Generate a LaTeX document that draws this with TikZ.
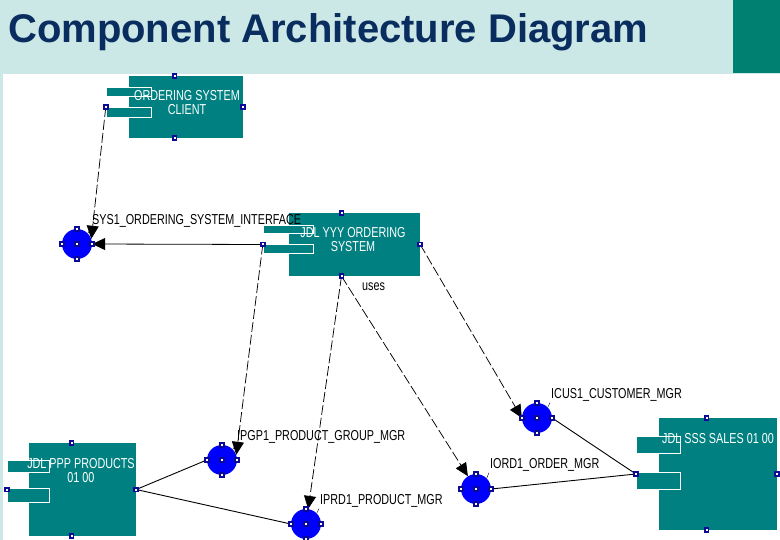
\documentclass[tikz,border=0pt]{standalone}
\usepackage{xcolor}
\usepackage{fontspec}
\setmainfont{Liberation Sans}
\newfontfamily\rosefont[FakeStretch=0.75]{Liberation Sans}
\usepackage{tikz}
\usetikzlibrary{arrows.meta, positioning, calc}

\definecolor{rosecyan}{RGB}{204,232,230}
\definecolor{roseteal}{RGB}{0,128,128}
\definecolor{headteal}{RGB}{0,128,112}
\definecolor{titlenavy}{RGB}{10,45,95}
\definecolor{handleblue}{RGB}{10,10,150}

\tikzset{
    compbox/.style={rectangle, inner sep=0pt, draw=none},
    compbody/.style={rectangle, inner sep=0pt, fill=roseteal},
    comptab/.style={rectangle, inner sep=0pt, fill=roseteal, draw=white, line width=0.8pt},
    comptext/.style={text=white, font=\rosefont\fontsize{14.4}{14}\selectfont, align=center, inner sep=0pt},
    iface/.style={circle, fill=blue, minimum size=30pt, inner sep=0pt},
    handle/.style={rectangle, fill=handleblue, minimum size=5.5pt, inner sep=0pt,
        path picture={\fill[white] ([shift={(-1pt,-1pt)}]path picture bounding box.center) rectangle ++(2pt,2pt);}},
    ifacelabel/.style={font=\rosefont\fontsize{14.4}{14}\selectfont, inner sep=1pt},
    depends/.style={-{Triangle[length=13pt,width=12pt]}, dash pattern=on 10pt off 3pt, line width=0.75pt},
    assoc/.style={-{Triangle[length=13pt,width=12pt]}, line width=0.8pt},
    realize/.style={line width=0.9pt}
}

\begin{document}
\begin{tikzpicture}[x=1pt, y=-1pt]
    \useasboundingbox (0,0) rectangle (780,540);
    \fill[rosecyan] (0,0) rectangle (780,540);
    \fill[white] (3,74) rectangle (780,540);
    \fill[headteal] (733,0) rectangle (780,73);
    \node (title) [anchor=base west, inner sep=0pt, text=titlenavy, font=\fontsize{40}{40}\selectfont\bfseries] at (8,43) {Component Architecture Diagram};

    \node (cli) [compbox, minimum width=137pt, minimum height=62pt] at (174.5,107) {};
    \node (cliBody) [compbody, minimum width=114pt, minimum height=62pt, anchor=east] at (cli.east) {};
    \node (cliTabA) [comptab, minimum width=45pt, minimum height=9pt, anchor=north west] at ($(cli.west)+(0,-20)$) {};
    \node (cliTabB) [comptab, minimum width=45pt, minimum height=10pt, anchor=north west] at (cli.west) {};
    \node (cliText) [comptext] at (187,103) {ORDERING SYSTEM\\CLIENT};

    \node (yyy) [compbox, minimum width=157pt, minimum height=63pt] at (341.5,244.5) {};
    \node (yyyBody) [compbody, minimum width=131pt, minimum height=63pt, anchor=east] at (yyy.east) {};
    \node (yyyTabA) [comptab, minimum width=50pt, minimum height=8pt, anchor=north west] at ($(yyy.west)+(0,-19.5)$) {};
    \node (yyyTabB) [comptab, minimum width=50pt, minimum height=9pt, anchor=north west] at (yyy.west) {};
    \node (yyyText) [comptext] at (353,240) {JDL YYY ORDERING\\SYSTEM};

    \node (ppp) [compbox, minimum width=129pt, minimum height=93pt] at (71.5,489.5) {};
    \node (pppBody) [compbody, minimum width=107pt, minimum height=93pt, anchor=east] at (ppp.east) {};
    \node (pppTabA) [comptab, minimum width=42pt, minimum height=12pt, anchor=north west] at ($(ppp.west)+(0,-29.5)$) {};
    \node (pppTabB) [comptab, minimum width=42pt, minimum height=14pt, anchor=north west] at ($(ppp.west)+(0,-1.5)$) {};
    \node (pppText) [comptext] at (81,471) {JDL PPP PRODUCTS\\01 00};

    \node (sss) [compbox, minimum width=141pt, minimum height=112pt] at (706.5,474) {};
    \node (sssBody) [compbody, minimum width=118pt, minimum height=112pt, anchor=east] at (sss.east) {};
    \node (sssTabA) [comptab, minimum width=44pt, minimum height=17pt, anchor=north west] at ($(sss.west)+(0,-38)$) {};
    \node (sssTabB) [comptab, minimum width=44pt, minimum height=17pt, anchor=north west] at ($(sss.west)+(0,-2)$) {};
    \node (sssText) [comptext] at (718,439) {JDL SSS SALES 01 00};

    \node (sys) [iface] at (77,244) {};
    \node (ipgp) [iface] at (222,460) {};
    \node (iprd) [iface] at (306,524) {};
    \node (icus) [iface] at (537,418) {};
    \node (iord) [iface] at (476,489) {};

    \node (sysL) [ifacelabel, anchor=west] at (91,221) {SYS1\_ORDERING\_SYSTEM\_INTERFACE};
    \node (ipgpL) [ifacelabel, anchor=west] at (236,437) {IPGP1\_PRODUCT\_GROUP\_MGR};
    \node (iprdL) [ifacelabel, anchor=west] at (319,501) {IPRD1\_PRODUCT\_MGR};
    \node (icusL) [ifacelabel, anchor=west] at (550,395) {ICUS1\_CUSTOMER\_MGR};
    \node (iordL) [ifacelabel, anchor=west] at (489,465) {IORD1\_ORDER\_MGR};

    \draw (sys.north east) -- (sysL.south west);
    \draw (ipgp.north east) -- (ipgpL.south west);
    \draw (iprd.north east) -- (iprdL.south west);
    \draw (icus.north east) -- (icusL.south west);
    \draw (iord.north east) -- (iordL.south west);

    \draw [depends] (cli.west) -- (sys.20);
    \draw [assoc] (yyy.west) -- (sys.east);
    \draw [depends] (yyy.west) -- (ipgp.20);
    \draw [depends] (yyy.south) -- (iprd);
    \draw [depends] (yyy.south) -- node[ifacelabel, pos=0.05, right=13pt] {uses} (iord);
    \draw [depends] (yyy.east) -- (icus.west);
    \draw [realize] (ppp.east) -- (ipgp.west);
    \draw [realize] (ppp.east) -- (iprd.west);
    \draw [realize] (sss.west) -- (icus.east);
    \draw [realize] (sss.west) -- (iord.east);

    \foreach \c in {cli, yyy, ppp, sss}
        \foreach \a in {north, south, east, west}
            \node (\c-\a) [handle] at (\c.\a) {};
    \foreach \i in {sys, ipgp, iprd, icus, iord}
        \foreach \a in {north, south, east, west, center}
            \node (\i-\a) [handle] at (\i.\a) {};
\end{tikzpicture}
\end{document}
